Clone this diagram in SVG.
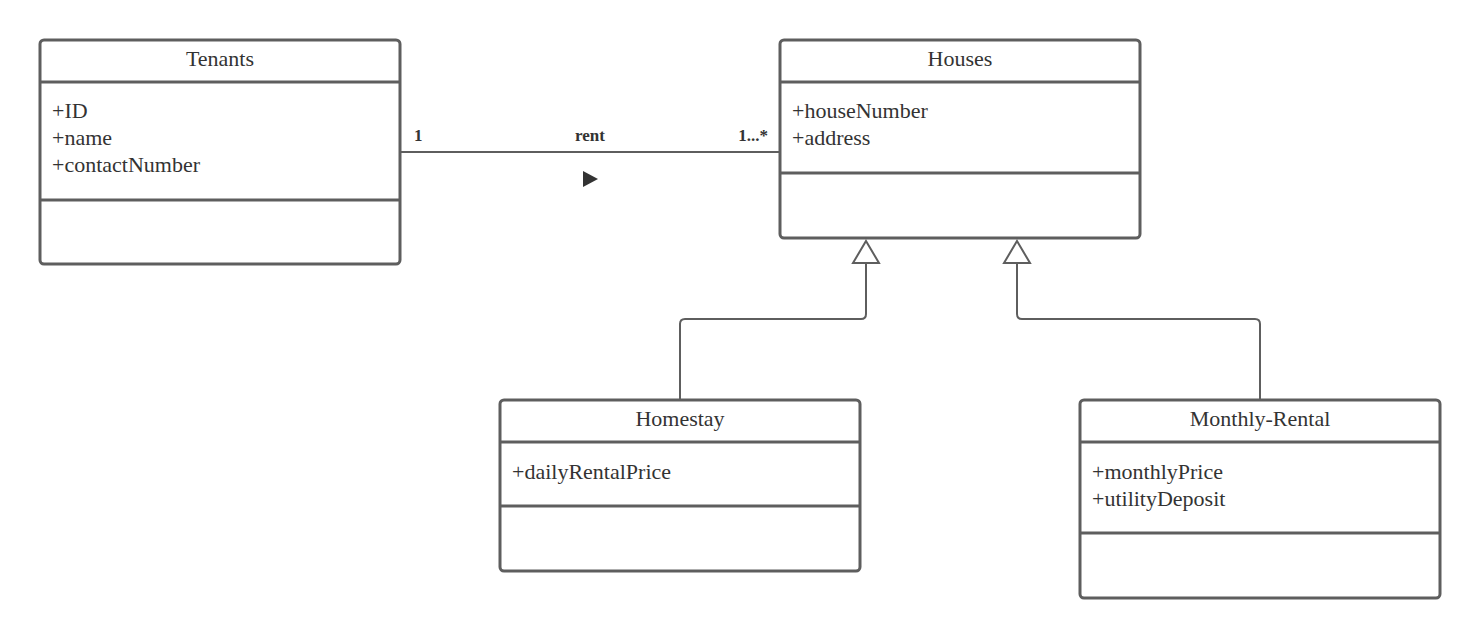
<svg xmlns="http://www.w3.org/2000/svg" width="1480" height="638" viewBox="0 0 1480 638">
<style>
.box{fill:#fff;stroke:#5e5e5e;stroke-width:3}
.div{stroke:#5e5e5e;stroke-width:3}
.t{font-family:"Liberation Serif",serif;font-size:22px;fill:#333}
.c{text-anchor:middle}
.lbl{font-family:"Liberation Serif",serif;font-size:17px;font-weight:bold;fill:#333}
.con{fill:none;stroke:#5e5e5e;stroke-width:2}
</style>
<rect width="1480" height="638" fill="#fff"/>
<g id="connectors">
<line class="con" x1="401" y1="152" x2="779" y2="152"/>
<text class="lbl" x="414" y="141">1</text>
<text class="lbl c" x="590" y="141">rent</text>
<text class="lbl" x="768" y="141" text-anchor="end">1...*</text>
<polygon points="583,171 598,179 583,187" fill="#333"/>
<path class="con" d="M680,400 V324 Q680,319 685,319 H861 Q866,319 866,314 V263"/>
<polygon points="866,241 879,263 853,263" fill="#fff" stroke="#5e5e5e" stroke-width="2"/>
<path class="con" d="M1260,400 V324 Q1260,319 1255,319 H1022 Q1017,319 1017,314 V263"/>
<polygon points="1017,241 1030,263 1004,263" fill="#fff" stroke="#5e5e5e" stroke-width="2"/>
</g>
<g id="tenants">
<rect class="box" x="40" y="40" width="360" height="224" rx="4"/>
<line class="div" x1="40" y1="82" x2="400" y2="82"/>
<line class="div" x1="40" y1="200" x2="400" y2="200"/>
<text class="t c" x="220" y="66">Tenants</text>
<text class="t" x="52" y="118">+ID</text>
<text class="t" x="52" y="145">+name</text>
<text class="t" x="52" y="172">+contactNumber</text>
</g>
<g id="houses">
<rect class="box" x="780" y="40" width="360" height="198" rx="4"/>
<line class="div" x1="780" y1="82" x2="1140" y2="82"/>
<line class="div" x1="780" y1="173" x2="1140" y2="173"/>
<text class="t c" x="960" y="66">Houses</text>
<text class="t" x="792" y="118">+houseNumber</text>
<text class="t" x="792" y="145">+address</text>
</g>
<g id="homestay">
<rect class="box" x="500" y="400" width="360" height="171" rx="4"/>
<line class="div" x1="500" y1="442" x2="860" y2="442"/>
<line class="div" x1="500" y1="506" x2="860" y2="506"/>
<text class="t c" x="680" y="426">Homestay</text>
<text class="t" x="512" y="479">+dailyRentalPrice</text>
</g>
<g id="monthly-rental">
<rect class="box" x="1080" y="400" width="360" height="198" rx="4"/>
<line class="div" x1="1080" y1="442" x2="1440" y2="442"/>
<line class="div" x1="1080" y1="533" x2="1440" y2="533"/>
<text class="t c" x="1260" y="426">Monthly-Rental</text>
<text class="t" x="1092" y="479">+monthlyPrice</text>
<text class="t" x="1092" y="506">+utilityDeposit</text>
</g>
</svg>
